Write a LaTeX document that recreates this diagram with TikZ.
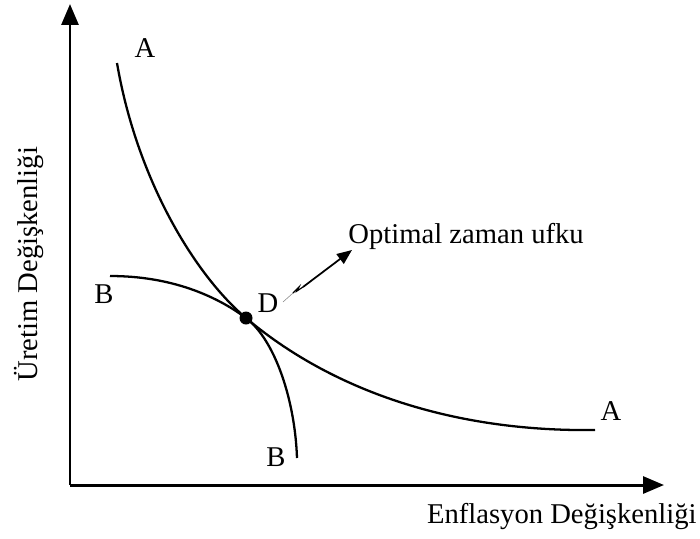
\documentclass[tikz,border=0pt]{standalone}
\usepackage{fontspec}
\setmainfont{Liberation Serif}
\usetikzlibrary{arrows.meta,positioning,calc}
\tikzset{
	axis/.style={line width=1.7pt, -{Triangle[length=4.2mm, width=3.4mm]}},
	curve/.style={line width=1.3pt},
	lbl/.style={inner sep=0pt, font=\fontsize{16.3}{19}\selectfont},
	pointer/.style={line width=1pt, -{Triangle[length=3mm, width=2.4mm]}}
}

\begin{document}
\begin{tikzpicture}[x=0.02cm, y=-0.02cm]
	\useasboundingbox (0,0) rectangle (700,538);
	% axes
	\coordinate (origin) at (70,485);
	\coordinate (ytip) at (70,4);
	\coordinate (xtip) at (664,485);
	\draw[axis] (origin) -- (ytip);
	\draw[axis] (origin) -- (xtip);
	\node[lbl, rotate=90, anchor=base west] (ylab) at (37,382) {Üretim Değişkenliği};
	\node[lbl, anchor=base east] (xlab) at (697,523) {Enflasyon Değişkenliği};
	% curves
	\node[circle, fill, inner sep=0pt, minimum size=2.6mm] (D) at (246,318) {};
	\draw[curve] (117,63) .. controls (137,180) and (195,275) .. (D.center)
		.. controls (330,389) and (450,432) .. (595,430);
	\draw[curve] (110,276) .. controls (170,276) and (215,295) .. (D.center)
		.. controls (275,340) and (295,400) .. (297,458);
	% labels
	\node[lbl] (a1) at (145,48) {A};
	\node[lbl] (a2) at (611,411) {A};
	\node[lbl] (b1) at (104,294) {B};
	\node[lbl] (b2) at (276,457) {B};
	\node[lbl] (dlab) at (268,303) {D};
	\node[lbl, anchor=base west] (optimal) at (348,243) {Optimal zaman ufku};
	% pointer
	\coordinate (p0) at (283,302);
	\coordinate (p1) at (293,293);
	\coordinate (p2) at (303,287);
	\draw[gray, line width=0.3pt] (p0) -- (p1);
	\draw[line width=0.7pt] (p1) -- (299,287) -- (297,291) -- (p2);
	\draw[pointer] (p2) -- (352,250);
\end{tikzpicture}
\end{document}
